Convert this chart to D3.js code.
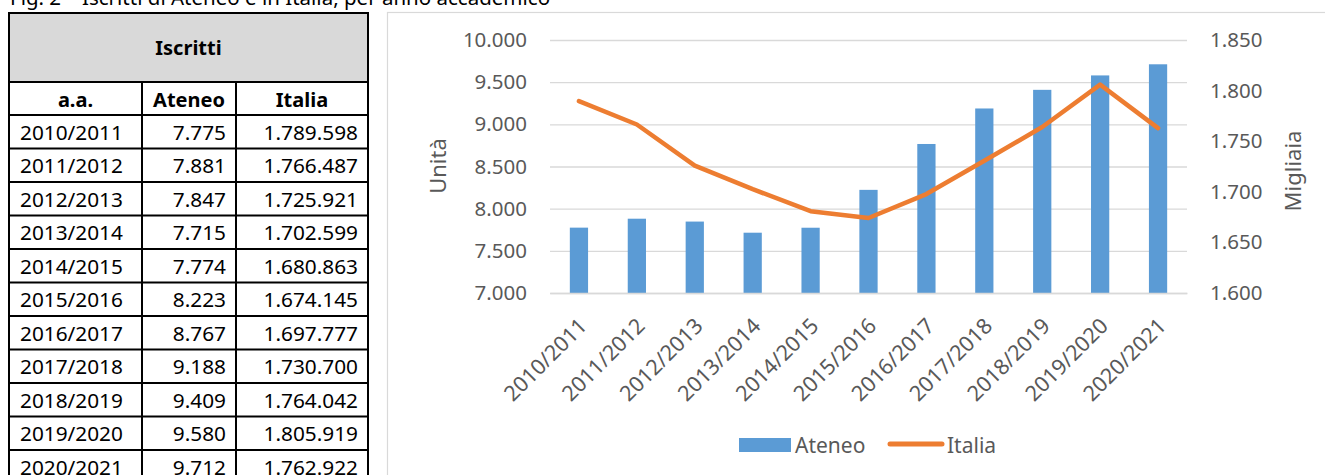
<!DOCTYPE html>
<html>
<head>
<meta charset="utf-8">
<script src="https://cdn.jsdelivr.net/npm/d3@7"></script>
<style>
  body { margin: 0; background: #fff; }
  svg { display: block; font-family: "Noto Sans", sans-serif; }
</style>
</head>
<body>
<div id="chart"></div>
<script>
var years = ["2010/2011", "2011/2012", "2012/2013", "2013/2014", "2014/2015", "2015/2016",
             "2016/2017", "2017/2018", "2018/2019", "2019/2020", "2020/2021"];
var ateneo = [7775, 7881, 7847, 7715, 7774, 8223, 8767, 9188, 9409, 9580, 9712];
var italia = [1789598, 1766487, 1725921, 1702599, 1680863, 1674145, 1697777, 1730700, 1764042, 1805919, 1762922];
var leftTicks = [7000, 7500, 8000, 8500, 9000, 9500, 10000];
var rightTicks = [1600, 1650, 1700, 1750, 1800, 1850];

var it = d3.formatLocale({decimal: ",", thousands: ".", grouping: [3], currency: ["€", ""]});
var fmt = it.format(",d");

var svg = d3.select("#chart").append("svg")
    .attr("width", 1325)
    .attr("height", 475);

svg.append("rect").attr("width", 1325).attr("height", 475).attr("fill", "#fff");

// title, cut off by the top edge
svg.append("text")
    .attr("x", 10)
    .attr("y", 5)
    .style("font-size", "20.5px")
    .attr("fill", "#000")
    .text("Fig. 2 – Iscritti di Ateneo e in Italia, per anno accademico");

// ---- table ----
var tab = svg.append("g");
var cols = [9, 142, 236, 368];
var headTop = 13, headMid = 82, rowTop = 115, rowH = 33.5;

tab.append("rect")
    .attr("x", cols[0]).attr("y", headTop)
    .attr("width", cols[3] - cols[0]).attr("height", headMid - headTop)
    .attr("fill", "#D9D9D9");

tab.append("text")
    .attr("x", (cols[0] + cols[3]) / 2).attr("y", (headTop + headMid) / 2)
    .attr("text-anchor", "middle").attr("dominant-baseline", "central")
    .attr("font-weight", 700).style("font-size", "20px")
    .text("Iscritti");

var heads = ["a.a.", "Ateneo", "Italia"];
heads.forEach(function(h, i) {
  tab.append("text")
      .attr("x", (cols[i] + cols[i + 1]) / 2).attr("y", (headMid + rowTop) / 2 + 1)
      .attr("text-anchor", "middle").attr("dominant-baseline", "central")
      .attr("font-weight", 700).style("font-size", "20px")
      .text(h);
});

years.forEach(function(y, i) {
  var cy = rowTop + rowH * i + rowH / 2;
  tab.append("text").attr("x", cols[0] + 11).attr("y", cy)
      .attr("dominant-baseline", "central").style("font-size", "20.8px").text(y);
  tab.append("text").attr("x", cols[2] - 10).attr("y", cy)
      .attr("text-anchor", "end").attr("dominant-baseline", "central").style("font-size", "20.8px")
      .text(fmt(ateneo[i]));
  tab.append("text").attr("x", cols[3] - 10).attr("y", cy)
      .attr("text-anchor", "end").attr("dominant-baseline", "central").style("font-size", "20.8px")
      .text(fmt(italia[i]));
});

// table lines
var bottom = rowTop + rowH * years.length;
var hl = [headTop, headMid, rowTop];
for (var r = 1; r <= years.length; r++) hl.push(rowTop + rowH * r);
hl.forEach(function(yy) {
  tab.append("line").attr("x1", cols[0]).attr("x2", cols[3]).attr("y1", yy).attr("y2", yy)
      .attr("stroke", "#000").attr("stroke-width", 2);
});
[cols[0], cols[3]].forEach(function(xx) {
  tab.append("line").attr("x1", xx).attr("x2", xx).attr("y1", headTop - 1).attr("y2", bottom)
      .attr("stroke", "#000").attr("stroke-width", 2);
});
[cols[1], cols[2]].forEach(function(xx) {
  tab.append("line").attr("x1", xx).attr("x2", xx).attr("y1", headMid).attr("y2", bottom)
      .attr("stroke", "#000").attr("stroke-width", 2);
});

// ---- chart ----
svg.append("rect")
    .attr("x", 387.5).attr("y", 12.5)
    .attr("width", 1000).attr("height", 500)
    .attr("fill", "#fff").attr("stroke", "#D9D9D9").attr("stroke-width", 1.2);

var x0 = 550, x1 = 1187, yTop = 40, yBot = 293;

var x = d3.scaleBand()
    .domain(years)
    .range([x0, x1])
    .padding(0);

var y = d3.scaleLinear()
    .domain([7000, 10000])
    .range([yBot, yTop]);

var y2 = d3.scaleLinear()
    .domain([1600000, 1850000])
    .range([yBot, yTop]);

// gridlines
var grid = svg.append("g")
    .attr("transform", "translate(" + x0 + ",0)")
    .call(d3.axisLeft(y).tickValues(leftTicks).tickSize(-(x1 - x0)).tickFormat(""));
grid.select(".domain").remove();
grid.selectAll("line").attr("stroke", "#D9D9D9").attr("stroke-width", 1.3);

// left axis labels
var ly = svg.append("g")
    .attr("transform", "translate(" + x0 + ",0)")
    .call(d3.axisLeft(y).tickValues(leftTicks).tickSize(0).tickPadding(23).tickFormat(fmt));
ly.select(".domain").remove();
ly.selectAll("text").attr("fill", "#595959").style("font-size", "20.5px")
    .style("font-family", "Noto Sans, sans-serif");

// right axis labels
var ry = svg.append("g")
    .attr("transform", "translate(" + x1 + ",0)")
    .call(d3.axisRight(y2).tickValues(rightTicks.map(function(d) { return d * 1000; }))
      .tickSize(0).tickPadding(23).tickFormat(function(d) { return fmt(d / 1000); }));
ry.select(".domain").remove();
ry.selectAll("text").attr("fill", "#595959").style("font-size", "20.5px")
    .style("font-family", "Noto Sans, sans-serif");

// bars
var barW = x.bandwidth() * 0.315;
svg.append("g")
  .selectAll("rect")
  .data(years)
  .enter().append("rect")
    .attr("x", function(d) { return x(d) + x.bandwidth() / 2 - barW / 2; })
    .attr("y", function(d, i) { return y(ateneo[i]); })
    .attr("width", barW)
    .attr("height", function(d, i) { return yBot - y(ateneo[i]); })
    .attr("fill", "#5B9BD5");

// x axis
var xa = svg.append("g")
    .attr("transform", "translate(0," + yBot + ")")
    .call(d3.axisBottom(x).tickSize(0));
xa.select(".domain").attr("stroke", "#D9D9D9").attr("stroke-width", 1.3);
xa.selectAll("text")
    .attr("x", 0).attr("y", 0).attr("dy", "0.35em")
    .attr("text-anchor", "end")
    .attr("transform", "translate(4,29) rotate(-45)")
    .attr("fill", "#595959")
    .style("font-size", "21.5px")
    .style("font-family", "Noto Sans, sans-serif");

// line
var line = d3.line()
    .x(function(d, i) { return x(years[i]) + x.bandwidth() / 2; })
    .y(function(d) { return y2(d); });
svg.append("path")
    .datum(italia)
    .attr("d", line)
    .attr("fill", "none")
    .attr("stroke", "#ED7D31")
    .attr("stroke-width", 4.5)
    .attr("stroke-linejoin", "round")
    .attr("stroke-linecap", "round");

// axis titles
svg.append("text")
    .attr("transform", "translate(446,166) rotate(-90)")
    .attr("text-anchor", "middle")
    .attr("fill", "#595959")
    .style("font-size", "22px")
    .text("Unità");

svg.append("text")
    .attr("transform", "translate(1301,171) rotate(-90)")
    .attr("text-anchor", "middle")
    .attr("fill", "#595959")
    .style("font-size", "22px")
    .text("Migliaia");

// legend
var lg = svg.append("g");
lg.append("rect").attr("x", 739).attr("y", 438).attr("width", 52).attr("height", 14).attr("fill", "#5B9BD5");
lg.append("text").attr("x", 795).attr("y", 445).attr("dominant-baseline", "central")
    .attr("fill", "#595959").style("font-size", "21px").text("Ateneo");
lg.append("line").attr("x1", 890).attr("x2", 942).attr("y1", 444).attr("y2", 444)
    .attr("stroke", "#ED7D31").attr("stroke-width", 5).attr("stroke-linecap", "round");
lg.append("text").attr("x", 947).attr("y", 445).attr("dominant-baseline", "central")
    .attr("fill", "#595959").style("font-size", "21px").text("Italia");
</script>
</body>
</html>
